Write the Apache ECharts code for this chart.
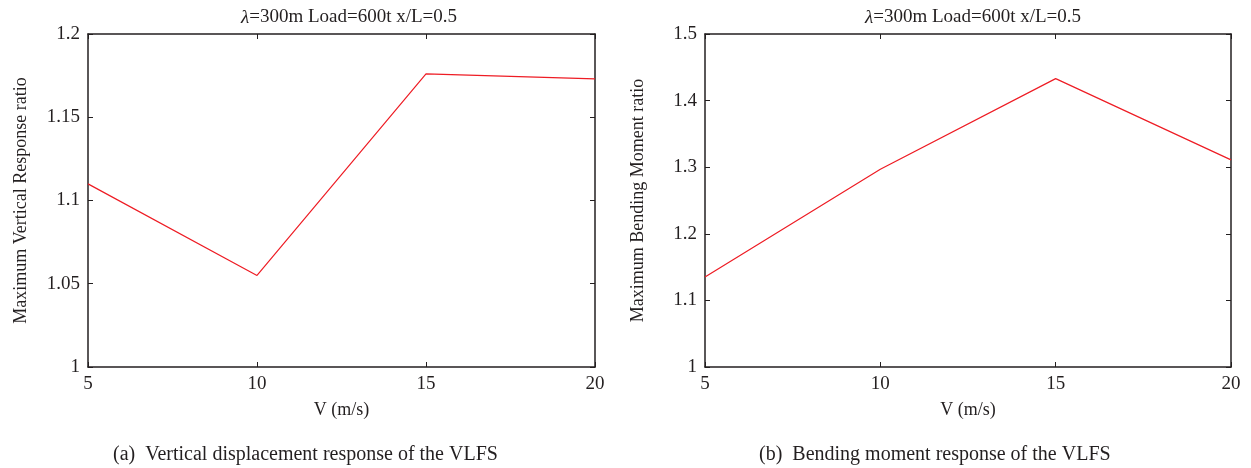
<!DOCTYPE html>
<html>
<head>
<meta charset="utf-8">
<script src="https://cdn.jsdelivr.net/npm/echarts@6/dist/echarts.min.js"></script>
<style>
  html, body { margin: 0; padding: 0; background: #fff; }
  #chart { width: 1251px; height: 468px; }
</style>
</head>
<body>
<div id="chart"></div>
<script>
// Wind speed (m/s) on the horizontal axis
const speeds = [5, 10, 15, 20];
// (a) maximum vertical displacement response ratio
const verticalRatio = [1.11, 1.055, 1.176, 1.173];
// (b) maximum bending moment response ratio
const bendingRatio = [1.135, 1.297, 1.433, 1.311];
// axis ranges
const xTicks = { min: 5, max: 20, interval: 5 };
const yRangeA = { min: 1, max: 1.2, interval: 0.05 };
const yRangeB = { min: 1, max: 1.5, interval: 0.1 };

const FONT = '"Liberation Serif", "DejaVu Serif", serif';
const AXIS_COLOR = '#231f20';
const LINE_COLOR = '#ee1c24';

const chart = echarts.init(document.getElementById('chart'));

function pairs(xs, ys) {
  return xs.map((x, i) => [x, ys[i]]);
}

function fmtY(v) {
  return String(+v.toFixed(2));
}

const labelStyle = { fontFamily: FONT, fontSize: 19, color: AXIS_COLOR, margin: 8 };

function baseAxis(extra) {
  return Object.assign({
    axisLine: { show: true, onZero: false, lineStyle: { color: AXIS_COLOR, width: 1.5 } },
    axisTick: { show: true, inside: true, length: 5, lineStyle: { color: AXIS_COLOR, width: 1 } },
    splitLine: { show: false },
    nameTextStyle: { fontFamily: FONT, fontSize: 18, color: AXIS_COLOR },
    axisLabel: labelStyle
  }, extra);
}

const grids = [
  { left: 88, right: 656, top: 34, bottom: 101 },
  { left: 705, right: 20, top: 34, bottom: 101 }
];

const xAxes = [];
const yAxes = [];
[[0, yRangeA, 'Maximum Vertical Response ratio'], [1, yRangeB, 'Maximum Bending Moment ratio']].forEach(([g, yr, yName]) => {
  xAxes.push(baseAxis({
    type: 'value', gridIndex: g, position: 'bottom',
    min: xTicks.min, max: xTicks.max, interval: xTicks.interval,
    name: 'V (m/s)', nameLocation: 'middle', nameGap: 34
  }));
  xAxes.push(baseAxis({
    type: 'value', gridIndex: g, position: 'top',
    min: xTicks.min, max: xTicks.max, interval: xTicks.interval,
    axisLabel: { show: false }
  }));
  yAxes.push(baseAxis({
    type: 'value', gridIndex: g, position: 'left',
    min: yr.min, max: yr.max, interval: yr.interval,
    name: yName, nameLocation: 'middle', nameGap: 58,
    axisLabel: Object.assign({}, labelStyle, { formatter: fmtY })
  }));
  yAxes.push(baseAxis({
    type: 'value', gridIndex: g, position: 'right',
    min: yr.min, max: yr.max, interval: yr.interval,
    axisLabel: { show: false }
  }));
});

const titleRich = {
  l: { fontFamily: FONT, fontSize: 19, fontStyle: 'italic', fontWeight: 'normal', color: AXIS_COLOR },
  t: { fontFamily: FONT, fontSize: 19, fontWeight: 'normal', color: AXIS_COLOR }
};
const captionStyle = { fontFamily: FONT, fontSize: 20, fontWeight: 'normal', color: AXIS_COLOR };

chart.setOption({
  backgroundColor: '#fff',
  animation: false,
  title: [
    { text: '{l|λ}{t|=300m Load=600t x/L=0.5}', left: 344, top: 3, textAlign: 'center',
      textStyle: { rich: titleRich } },
    { text: '{l|λ}{t|=300m Load=600t x/L=0.5}', left: 968, top: 3, textAlign: 'center',
      textStyle: { rich: titleRich } },
    { text: '(a)  Vertical displacement response of the VLFS', left: 108, top: 440,
      textStyle: captionStyle },
    { text: '(b)  Bending moment response of the VLFS', left: 754, top: 440,
      textStyle: captionStyle }
  ],
  grid: grids,
  xAxis: xAxes,
  yAxis: yAxes,
  series: [
    { type: 'line', xAxisIndex: 0, yAxisIndex: 0, data: pairs(speeds, verticalRatio),
      showSymbol: false, lineStyle: { color: LINE_COLOR, width: 1.2 } },
    { type: 'line', xAxisIndex: 2, yAxisIndex: 2, data: pairs(speeds, bendingRatio),
      showSymbol: false, lineStyle: { color: LINE_COLOR, width: 1.2 } }
  ]
});
</script>
</body>
</html>
